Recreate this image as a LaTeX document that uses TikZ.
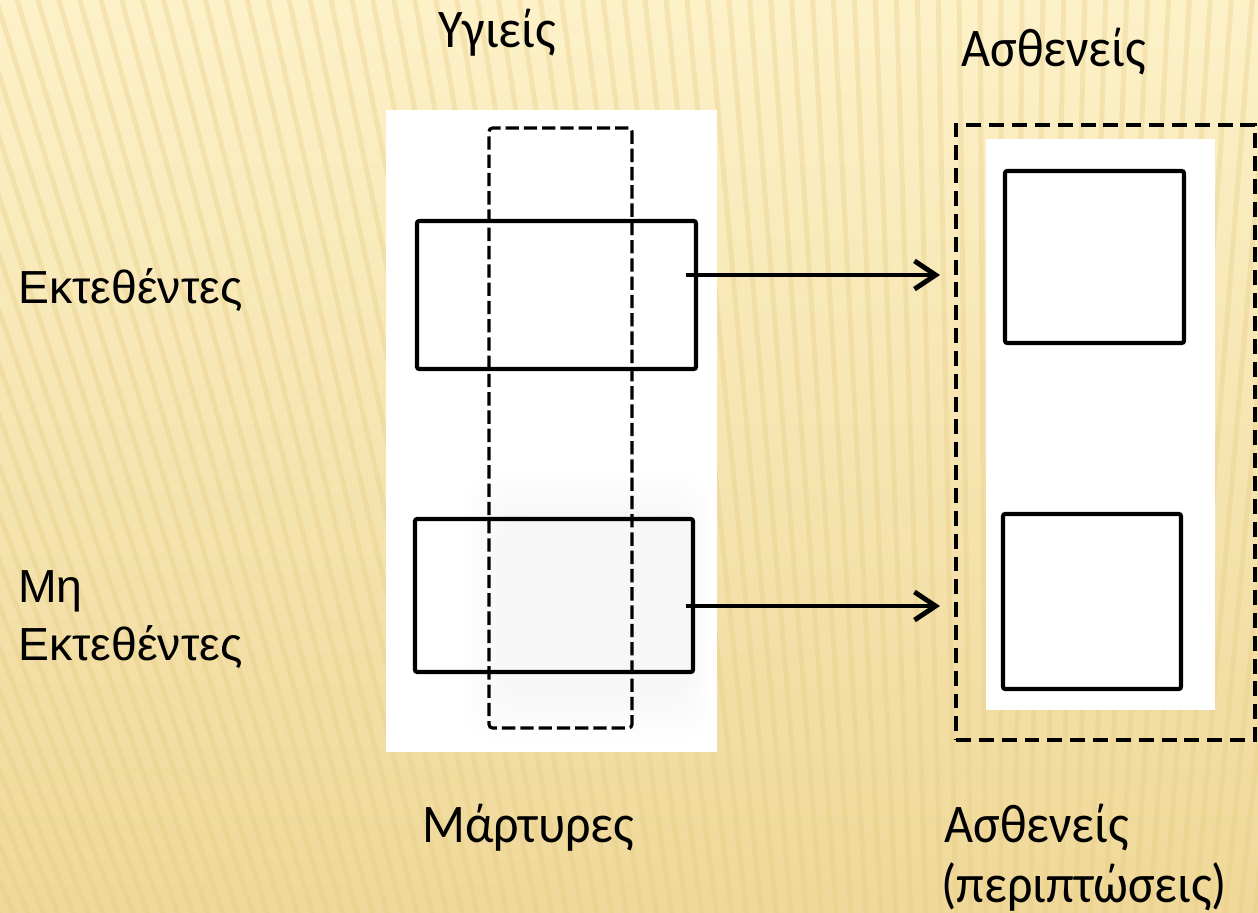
\documentclass[tikz,border=0pt]{standalone}
\usepackage{fontspec}
\setmainfont{Liberation Sans}
\newfontfamily\condf[FakeStretch=0.92]{Carlito}
\usetikzlibrary{arrows.meta,fit}
\definecolor{bgtop}{HTML}{FDF1C8}
\definecolor{bgbot}{HTML}{EFD899}
\definecolor{stripe}{HTML}{E6CA80}
\tikzset{
  solidbox/.style={draw=black, line width=2.3pt, rounded corners=1.2pt, inner sep=0pt, fill=white},
  openbox/.style={draw=black, line width=2.3pt, rounded corners=1.2pt, inner sep=0pt},
  leftdash/.style={draw=black, line width=1.8pt, dash pattern=on 7.6pt off 2.8pt, rounded corners=2pt, inner sep=0pt},
  rightdash/.style={draw=black, line width=2.8pt, dash pattern=on 8.5pt off 4.5pt, inner sep=0pt},
  panel/.style={fill=white, draw=none, inner sep=0pt},
  arr/.style={line width=2.8pt, -{Straight Barb[length=12pt, width=16pt, line width=2.8pt]}},
  armlabel/.style={font=\fontsize{26.4}{30}\selectfont, anchor=base west, inner sep=0pt},
  condlabel/.style={font=\condf\fontsize{31}{34}\selectfont, anchor=base west, inner sep=0pt}
}
\begin{document}
\begin{tikzpicture}[x=0.02cm, y=-0.02cm]
\useasboundingbox (0,0) rectangle (1258,913);
% background
\shade[top color=bgtop, bottom color=bgbot] (0,0) rectangle (1258,913);
\begin{scope}
\clip (0,0) rectangle (1258,913);
\foreach \s in {-700,-679,...,1700}{
  \draw[stripe, line width=2.8pt, opacity=0.32] (\s,-10) -- (1000,3200);
}
\end{scope}
% white panels
\node[panel, fit={(386,110) (717,752)}] (lpanel) {};
\node[panel, fit={(986,139) (1215,710)}] (rpanel) {};
% grey smudge
\foreach \i in {0,...,7}{
  \fill[black, opacity=0.0055, rounded corners=18pt] (465+5*\i,470+6*\i) rectangle (710-3*\i,740-6*\i);
}
% left dashed column
\node[leftdash, fit={(489,128) (632,728)}] (ctrl) {};
% solid rectangles (left)
\node[openbox, fit={(417,221) (696,369)}] (expH) {};
\node[openbox, fit={(415,519) (693,672)}] (nexpH) {};
% right dashed frame and squares
\node[rightdash, fit={(956,125) (1255,740)}] (cases) {};
\node[solidbox, fit={(1005,171) (1184,343)}] (expC) {};
\node[solidbox, fit={(1003,514) (1181,689)}] (nexpC) {};
% arrows
\coordinate (a1s) at (686,275);
\coordinate (a1e) at (940,275);
\coordinate (a2s) at (686,606);
\coordinate (a2e) at (940,606);
\draw[arr] (a1s) -- (a1e);
\draw[arr] (a2s) -- (a2e);
% labels
\node[condlabel] (healthy) at (438,47) {Υγιείς};
\node[condlabel] (sickTop) at (961,66) {Ασθενείς};
\node[armlabel] (exposed) at (18,303) {Εκτεθέντες};
\node[armlabel] (mh) at (18,602) {Μη};
\node[armlabel] (nexposed) at (18,660) {Εκτεθέντες};
\node[condlabel] (controls) at (422,842) {Μάρτυρες};
\node[condlabel] (sickBot) at (944,842) {Ασθενείς};
\node[condlabel] (casesLbl) at (941,902) {(περιπτώσεις)};
\end{tikzpicture}
\end{document}
